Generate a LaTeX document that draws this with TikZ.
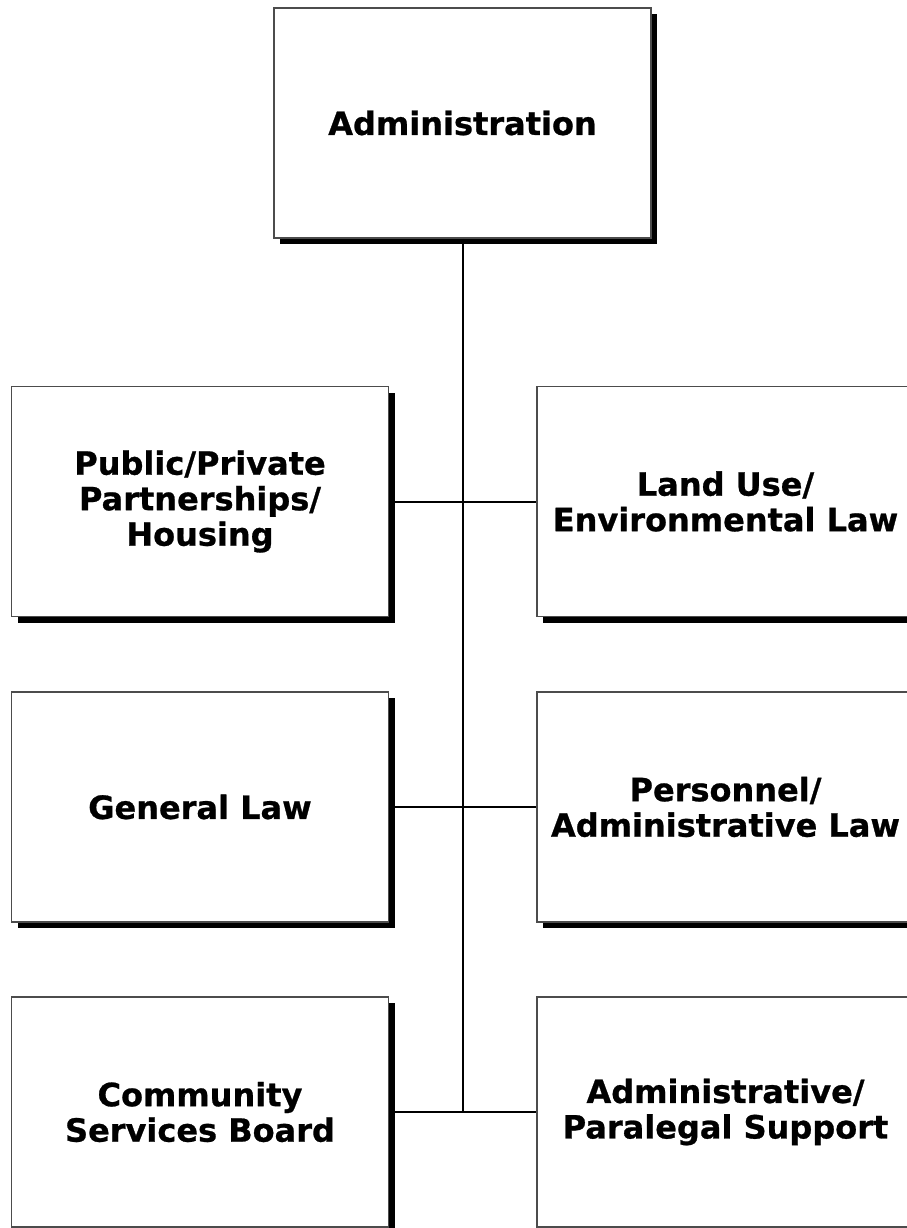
\documentclass[tikz,border=0pt]{standalone}
\usepackage{fontspec}
\setmainfont{DejaVu Sans}[BoldFeatures={FakeBold=0.8}]
\usetikzlibrary{positioning}
\usetikzlibrary{shadows}

\begin{document}
\begin{tikzpicture}[
        x=1pt, y=-1pt,
        unitbox/.style={
            rectangle,
            minimum width=377pt, minimum height=230pt,
            draw=black!70, line width=1.6pt,
            fill=white,
            drop shadow={shadow xshift=6pt, shadow yshift=-6pt,
                fill=black, opacity=1},
            align=center,
            font=\bfseries\fontsize{32}{35.5}\selectfont,
        },
        link/.style={draw=black, line width=2pt},
    ]
        \useasboundingbox (0,0) rectangle (906,1228);

        \node (admin) at(462.5,123) [unitbox] {Administration};

        \node (ppp) at(200,501.5) [unitbox] {Public/Private\\Partnerships/\\Housing};
        \node (landuse) at(725.5,501.5) [unitbox] {Land Use/\\Environmental Law};

        \node (genlaw) at(200,807) [unitbox] {General Law};
        \node (personnel) at(725.5,807) [unitbox] {Personnel/\\Administrative Law};

        \node (csb) at(200,1112) [unitbox] {Community\\Services Board};
        \node (support) at(725.5,1112) [unitbox] {Administrative/\\Paralegal Support};

        \coordinate (trunkend) at(admin.south |- csb.east);

        \draw [link] (admin.south) -- (trunkend);
        \draw [link] (ppp.east) -- (landuse.west);
        \draw [link] (genlaw.east) -- (personnel.west);
        \draw [link] (csb.east) -- (support.west);
    \end{tikzpicture}
\end{document}
